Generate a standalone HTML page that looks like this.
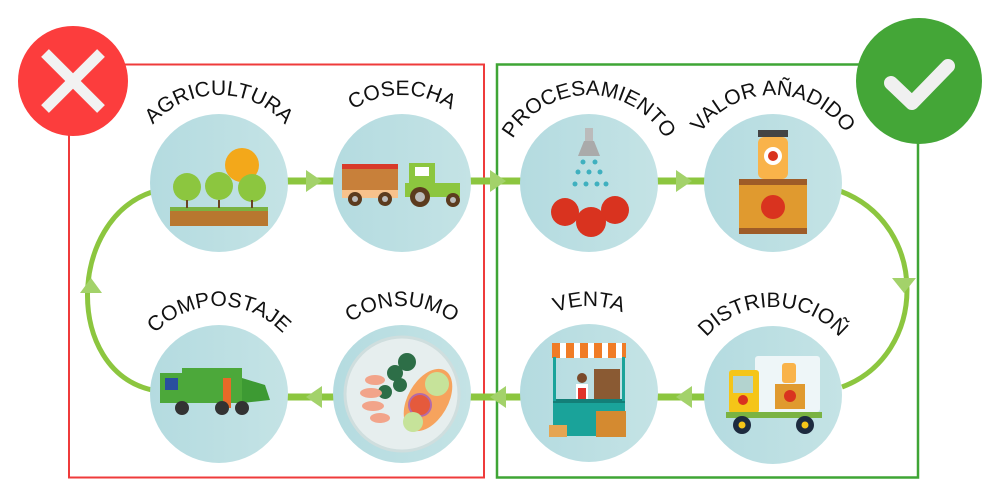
<!DOCTYPE html>
<html><head><meta charset="utf-8"><style>
html,body{margin:0;padding:0;background:#fff;width:1000px;height:500px;overflow:hidden}
svg text{font-family:"Liberation Sans",sans-serif;font-size:21px;fill:#111;letter-spacing:0px}
</style></head><body>
<svg width="1000" height="500" viewBox="0 0 1000 500" xmlns="http://www.w3.org/2000/svg">
<defs>
<linearGradient id="cg" x1="0" x2="1"><stop offset="0" stop-color="#b4dbe0"/><stop offset="1" stop-color="#c4e3e5"/></linearGradient>
<path id="a1" d="M131,183 A88,88 0 0 1 307,183"/>
<path id="a2" d="M314,183 A88,88 0 0 1 490,183"/>
<path id="a3" d="M501,183 A88,88 0 0 1 677,183"/>
<path id="a4" d="M685,183 A88,88 0 0 1 861,183"/>
<path id="b1" d="M131,394 A88,88 0 0 1 307,394"/>
<path id="b2" d="M314,394 A88,88 0 0 1 490,394"/>
<path id="b3" d="M501,394 A88,88 0 0 1 677,394"/>
<path id="b4" d="M685,395 A88,88 0 0 1 861,395"/>
</defs>
<rect x="69" y="64.5" width="415" height="413" fill="none" stroke="#ef3b3b" stroke-width="2"/>
<rect x="497" y="64.5" width="421" height="413" fill="none" stroke="#3fa535" stroke-width="2.5"/>
<g stroke="#8cc63f" stroke-width="7" fill="none">
<line x1="285" y1="181" x2="340" y2="181"/>
<line x1="468" y1="181" x2="525" y2="181"/>
<line x1="655" y1="181" x2="710" y2="181"/>
<line x1="285" y1="397" x2="340" y2="397"/>
<line x1="468" y1="397" x2="525" y2="397"/>
<line x1="655" y1="397" x2="710" y2="397"/>
<path d="M152,192 C68,220 64,370 152,390" stroke-width="5"/>
<path d="M840,191 C930,225 928,355 842,387" stroke-width="5"/>
</g>
<g fill="#a3d26a">
<polygon points="306,170 322,181 306,192"/>
<polygon points="490,170 506,181 490,192"/>
<polygon points="676,170 692,181 676,192"/>
<polygon points="322,386 306,397 322,408"/>
<polygon points="506,386 490,397 506,408"/>
<polygon points="692,386 676,397 692,408"/>
<polygon points="80,293 91,278 102,293"/>
<polygon points="892,278 916,278 904,293"/>
</g>
<g fill="url(#cg)">
<circle cx="219" cy="183" r="69"/><circle cx="402" cy="183" r="69"/>
<circle cx="589" cy="183" r="69"/><circle cx="773" cy="183" r="69"/>
<circle cx="219" cy="394" r="69"/><circle cx="402" cy="394" r="69"/>
<circle cx="589" cy="393" r="69"/><circle cx="773" cy="395" r="69"/>
</g>
<circle cx="242" cy="165" r="17" fill="#f3a81a"/>
<rect x="170" y="208" width="98" height="18" fill="#b8772f"/><rect x="170" y="207" width="98" height="4" fill="#7ab342"/>
<g fill="#8cc63f"><circle cx="187" cy="187" r="14"/><circle cx="219" cy="186" r="14"/><circle cx="252" cy="188" r="14"/></g>
<g stroke="#6b4423" stroke-width="2"><line x1="187" y1="200" x2="187" y2="208"/><line x1="219" y1="200" x2="219" y2="208"/><line x1="252" y1="200" x2="252" y2="208"/></g>
<rect x="342" y="168" width="56" height="24" fill="#c8803a"/><rect x="342" y="164" width="56" height="5" fill="#d83a2a"/>
<rect x="342" y="190" width="56" height="8" fill="#f7c28c"/>
<rect x="409" y="163" width="26" height="22" fill="#8cc63f"/><rect x="415" y="167" width="14" height="9" fill="#fff"/>
<rect x="405" y="183" width="55" height="14" fill="#8cc63f"/>
<g fill="#5c3b1e"><circle cx="355" cy="199" r="7"/><circle cx="385" cy="199" r="7"/><circle cx="420" cy="197" r="10"/><circle cx="453" cy="200" r="7"/></g>
<g fill="#bbb"><circle cx="355" cy="199" r="3"/><circle cx="385" cy="199" r="3"/><circle cx="420" cy="197" r="5"/><circle cx="453" cy="200" r="3"/></g>
<rect x="585" y="128" width="8" height="14" fill="#bbb"/><polygon points="578,156 600,156 594,141 584,141" fill="#aaa"/>
<g fill="#3fb0bf"><circle cx="583" cy="162" r="2.5"/><circle cx="595" cy="162" r="2.5"/><circle cx="578" cy="172" r="2.5"/><circle cx="589" cy="172" r="2.5"/><circle cx="600" cy="172" r="2.5"/><circle cx="575" cy="184" r="2.5"/><circle cx="586" cy="184" r="2.5"/><circle cx="597" cy="184" r="2.5"/><circle cx="606" cy="184" r="2.5"/></g>
<g fill="#d9331f"><circle cx="565" cy="212" r="14"/><circle cx="615" cy="210" r="14"/><circle cx="591" cy="222" r="15"/></g>
<rect x="758" y="130" width="30" height="7" fill="#444"/><rect x="758" y="137" width="30" height="42" rx="6" fill="#f9b34a"/>
<circle cx="773" cy="156" r="9" fill="#fff"/><circle cx="773" cy="156" r="5" fill="#d9331f"/>
<rect x="739" y="179" width="68" height="55" fill="#e09a2f"/><rect x="739" y="179" width="68" height="6" fill="#9e5c28"/><rect x="739" y="228" width="68" height="6" fill="#9e5c28"/>
<circle cx="773" cy="207" r="12" fill="#d9331f"/>
<rect x="160" y="373" width="22" height="30" fill="#4ca83a"/><rect x="165" y="378" width="13" height="12" fill="#2a4f9e"/>
<rect x="182" y="368" width="60" height="35" fill="#4ca83a"/><polygon points="242,378 265,385 270,400 242,403" fill="#3d9a33"/>
<rect x="223" y="378" width="8" height="30" fill="#e66a28"/>
<g fill="#333"><circle cx="182" cy="408" r="7"/><circle cx="222" cy="408" r="7"/><circle cx="242" cy="408" r="7"/></g>
<circle cx="402" cy="394" r="57" fill="#e6eeee" stroke="#cfdede" stroke-width="3"/>
<g fill="#2d6e47"><circle cx="407" cy="362" r="9"/><circle cx="395" cy="373" r="8"/><circle cx="400" cy="385" r="7"/><circle cx="385" cy="392" r="7"/></g>
<ellipse cx="428" cy="400" rx="20" ry="34" fill="#f6a35d" transform="rotate(30 428 400)"/>
<circle cx="437" cy="384" r="12" fill="#c6e39a"/><circle cx="420" cy="405" r="11" fill="#e55a3c" stroke="#b46aa8" stroke-width="2"/><circle cx="413" cy="422" r="10" fill="#c6e39a"/>
<g fill="#f2a48a"><ellipse cx="375" cy="380" rx="10" ry="5"/><ellipse cx="371" cy="393" rx="11" ry="5"/><ellipse cx="373" cy="406" rx="11" ry="5"/><ellipse cx="380" cy="418" rx="10" ry="5"/></g>
<polygon points="552,343 626,343 626,358 552,358" fill="#f07c26"/>
<g fill="#fff"><rect x="560" y="343" width="6" height="15"/><rect x="574" y="343" width="6" height="15"/><rect x="588" y="343" width="6" height="15"/><rect x="602" y="343" width="6" height="15"/><rect x="616" y="343" width="6" height="15"/></g>
<rect x="594" y="369" width="26" height="32" fill="#8a5a33"/>
<circle cx="582" cy="378" r="5" fill="#7a4a2a"/><rect x="576" y="384" width="12" height="16" fill="#fff"/><rect x="578" y="388" width="8" height="12" fill="#e0332a"/>
<rect x="553" y="401" width="72" height="35" fill="#1aa39a"/><rect x="553" y="399" width="72" height="4" fill="#137f78"/>
<rect x="553" y="357" width="3" height="44" fill="#1aa39a"/><rect x="622" y="357" width="3" height="44" fill="#1aa39a"/>
<rect x="549" y="425" width="18" height="12" fill="#e5a552"/><rect x="596" y="411" width="30" height="26" fill="#d48a30"/>
<rect x="755" y="356" width="65" height="56" rx="3" fill="#eef6f8"/>
<rect x="729" y="370" width="30" height="43" rx="3" fill="#f5c518"/><rect x="733" y="376" width="20" height="17" fill="#b3d3cf"/>
<rect x="726" y="412" width="96" height="6" fill="#7ab342"/>
<rect x="782" y="363" width="14" height="20" rx="3" fill="#f9b34a"/><rect x="775" y="384" width="30" height="25" fill="#e09a2f"/><circle cx="790" cy="396" r="6" fill="#d9331f"/>
<circle cx="743" cy="400" r="5" fill="#d9331f"/>
<g fill="#1d2b3f"><circle cx="742" cy="425" r="9"/><circle cx="805" cy="425" r="9"/></g>
<g fill="#f5c518"><circle cx="742" cy="425" r="3.5"/><circle cx="805" cy="425" r="3.5"/></g>
<circle cx="73" cy="81" r="55" fill="#fc3d3d"/>
<g stroke="#f2f2f2" stroke-width="11" stroke-linecap="butt"><line x1="45" y1="53" x2="101" y2="109"/><line x1="101" y1="53" x2="45" y2="109"/></g>
<circle cx="919" cy="81" r="63" fill="#44a637"/>
<polyline points="891,83 912,103 948,66" fill="none" stroke="#f0f0f0" stroke-width="14" stroke-linecap="round" stroke-linejoin="round"/>
<text><textPath href="#a1" startOffset="50%" text-anchor="middle">AGRICULTURA</textPath></text>
<text><textPath href="#a2" startOffset="50%" text-anchor="middle">COSECHA</textPath></text>
<text><textPath href="#a3" startOffset="50%" text-anchor="middle">PROCESAMIENTO</textPath></text>
<text><textPath href="#a4" startOffset="50%" text-anchor="middle">VALOR AÑADIDO</textPath></text>
<text><textPath href="#b1" startOffset="50%" text-anchor="middle">COMPOSTAJE</textPath></text>
<text><textPath href="#b2" startOffset="50%" text-anchor="middle">CONSUMO</textPath></text>
<text><textPath href="#b3" startOffset="50%" text-anchor="middle">VENTA</textPath></text>
<text><textPath href="#b4" startOffset="50%" text-anchor="middle">DISTRIBUCIOÑ</textPath></text>
</svg>
</body></html>
